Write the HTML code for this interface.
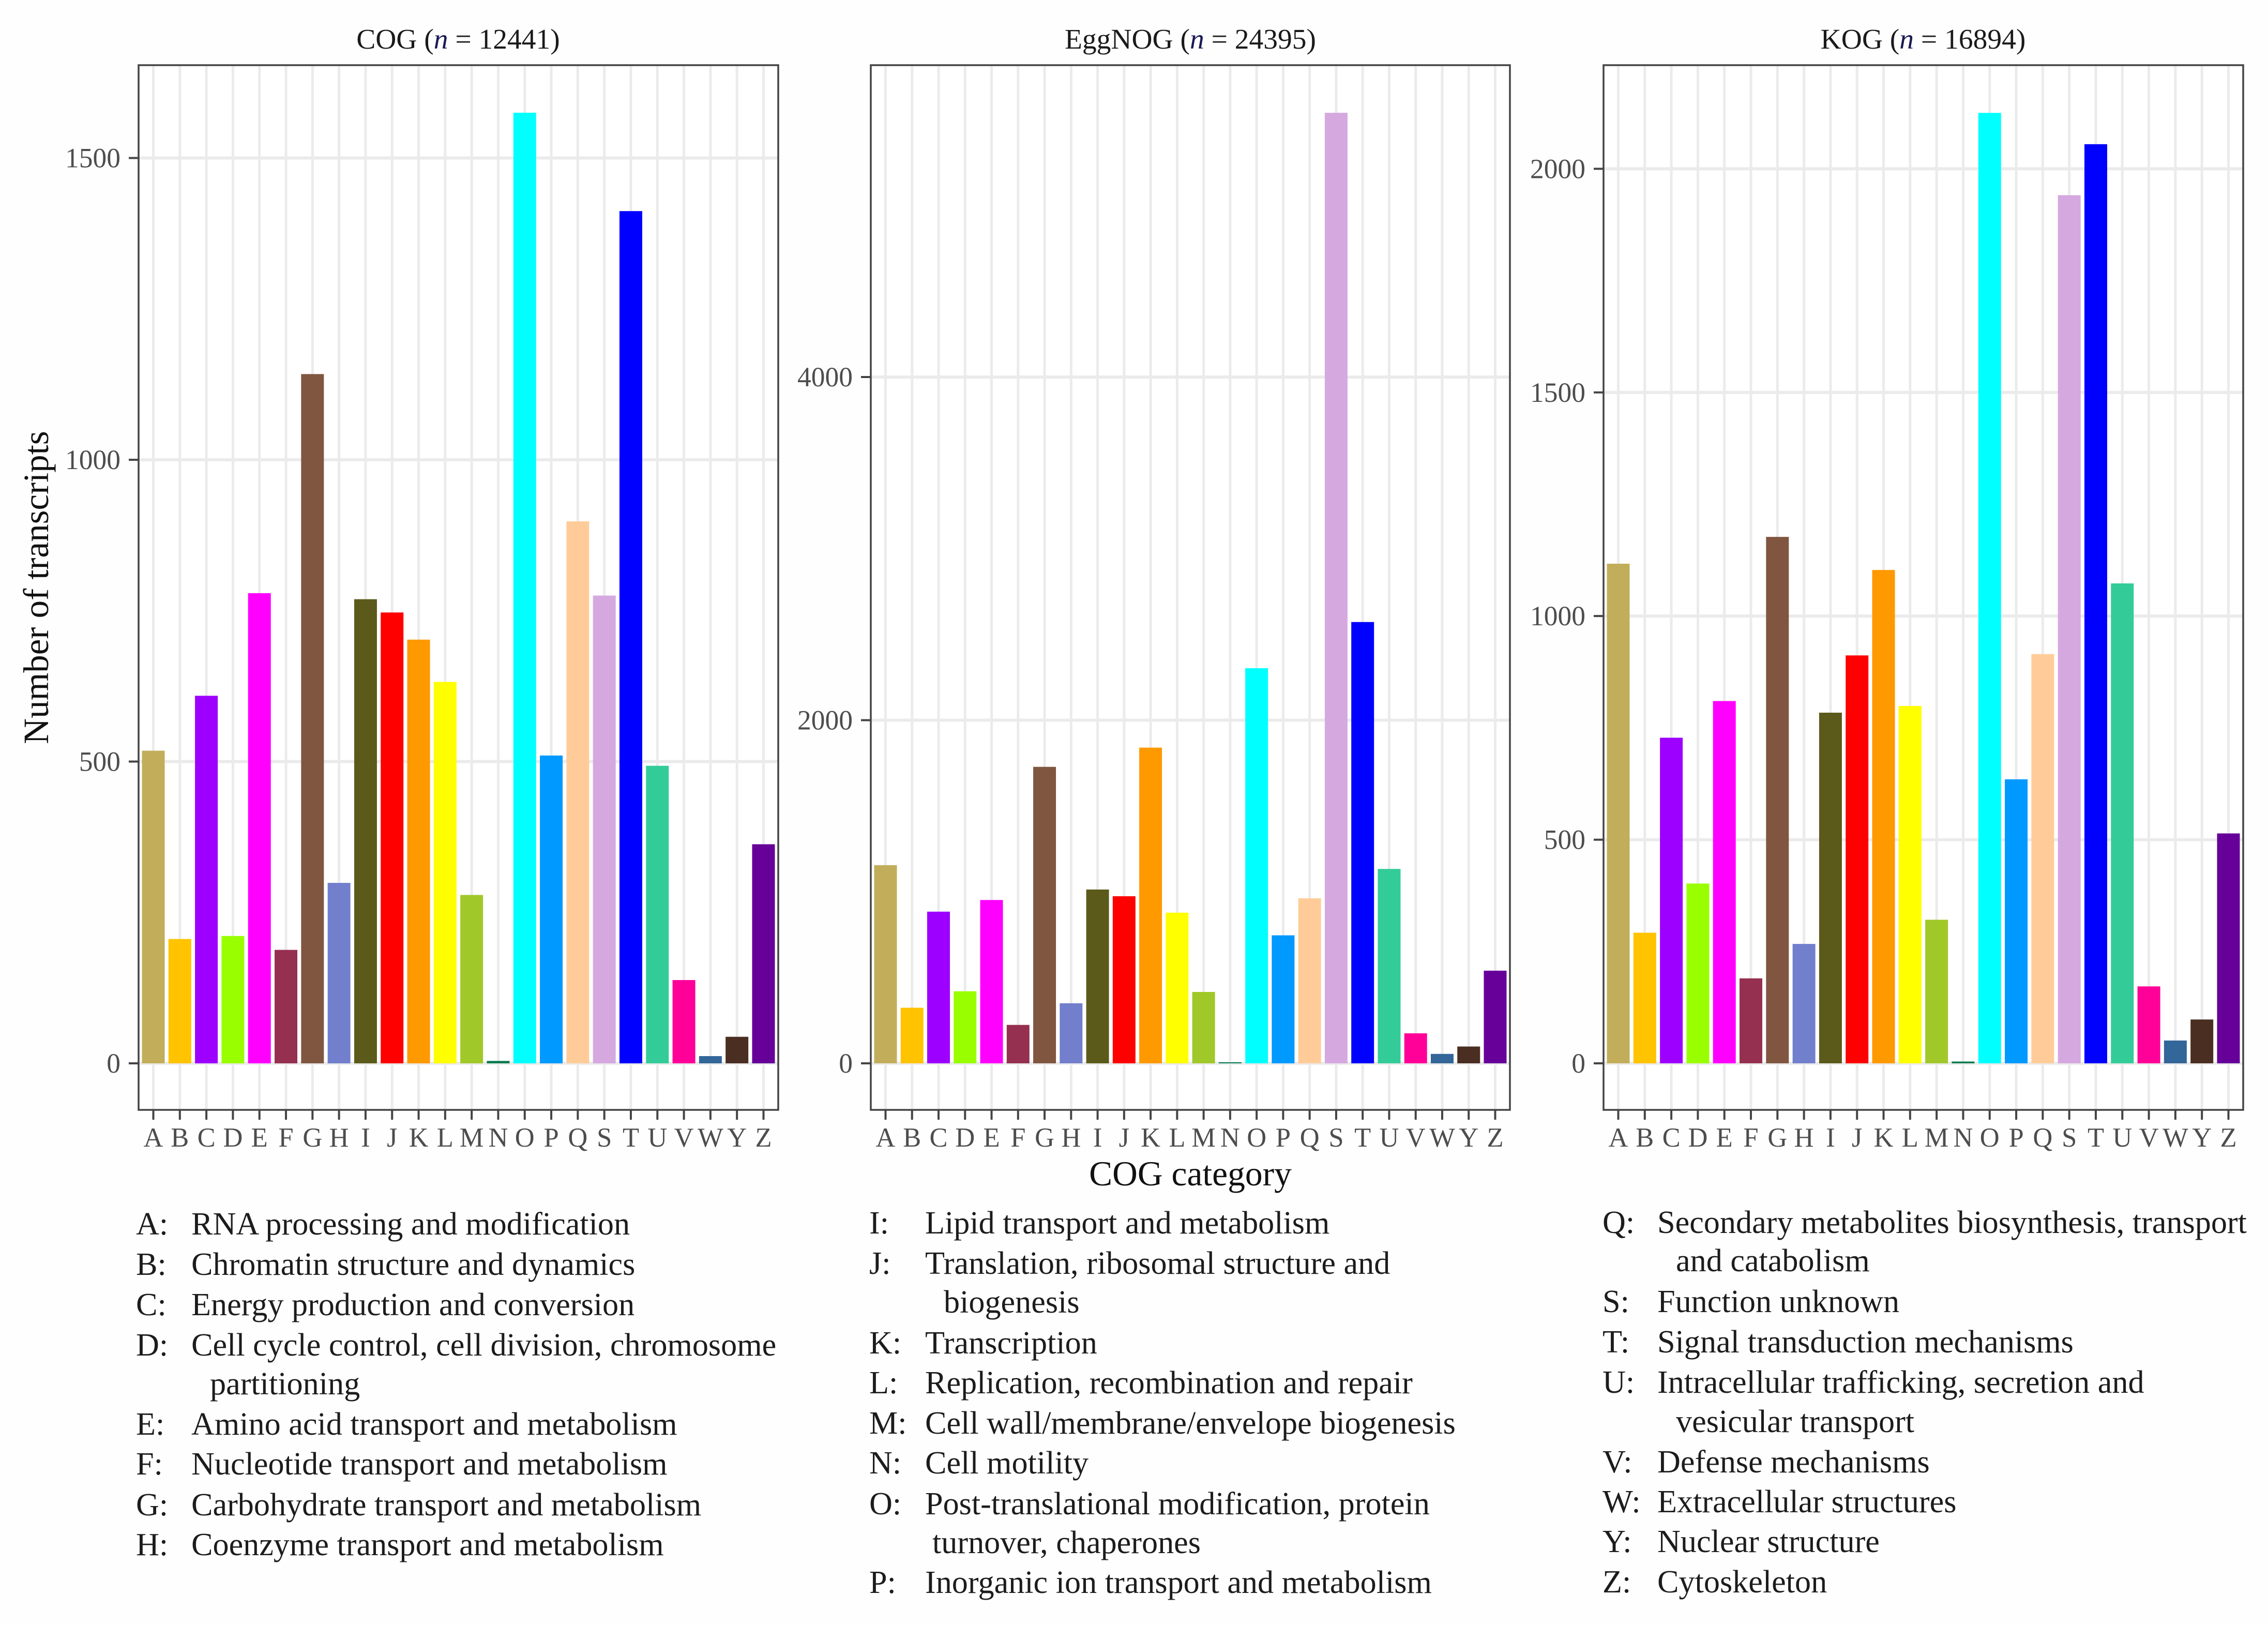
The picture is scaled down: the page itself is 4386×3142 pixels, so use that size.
<!DOCTYPE html>
<html lang="en">
<head>
<meta charset="utf-8">
<title>COG category distribution of transcripts</title>
<style>
html,body{margin:0;padding:0;background:#fefefe;}
svg{display:block;font-family:"Liberation Serif",serif;}
.legend text{font-size:62.2px;fill:#1c1c1c;}
.panel-title{font-size:55.5px;fill:#1a1a1a;text-anchor:middle;}
.panel-title .n{font-style:italic;fill:#1a1a55;}
.axis-title{font-size:69px;fill:#111;}
.tick-label{font-size:53.5px;fill:#4d4d4d;}
.x-label{font-size:52.5px;}
</style>
</head>
<body>
<svg id="figure" xmlns="http://www.w3.org/2000/svg" width="4386" height="3142" viewBox="0 0 4386 3142">
  <rect x="0" y="0" width="4386" height="3142" fill="#fefefe"/>
  <g id="panels"></g>

  <text class="panel-title" x="886" y="94">COG (<tspan class="n">n</tspan> = 12441)</text>
  <text class="panel-title" x="2302" y="94">EggNOG (<tspan class="n">n</tspan> = 24395)</text>
  <text class="panel-title" x="3719" y="94">KOG (<tspan class="n">n</tspan> = 16894)</text>

  <text class="axis-title" text-anchor="middle" transform="translate(93,1136) rotate(-90)">Number of transcripts</text>
  <text class="axis-title" text-anchor="middle" style="font-size:67.5px" x="2302" y="2292">COG category</text>

  <g class="legend">
    <text x="263" y="2387">A:</text><text x="370" y="2387">RNA processing and modification</text>
    <text x="263" y="2465">B:</text><text x="370" y="2465">Chromatin structure and dynamics</text>
    <text x="263" y="2543">C:</text><text x="370" y="2543">Energy production and conversion</text>
    <text x="263" y="2621">D:</text><text x="370" y="2621">Cell cycle control, cell division, chromosome</text>
    <text x="406" y="2696">partitioning</text>
    <text x="263" y="2774">E:</text><text x="370" y="2774">Amino acid transport and metabolism</text>
    <text x="263" y="2851">F:</text><text x="370" y="2851">Nucleotide transport and metabolism</text>
    <text x="263" y="2930">G:</text><text x="370" y="2930">Carbohydrate transport and metabolism</text>
    <text x="263" y="3007">H:</text><text x="370" y="3007">Coenzyme transport and metabolism</text>
  </g>
  <g class="legend">
    <text x="1681" y="2385">I:</text><text x="1789" y="2385">Lipid transport and metabolism</text>
    <text x="1681" y="2463">J:</text><text x="1789" y="2463">Translation, ribosomal structure and</text>
    <text x="1825" y="2538">biogenesis</text>
    <text x="1681" y="2617">K:</text><text x="1789" y="2617">Transcription</text>
    <text x="1681" y="2694">L:</text><text x="1789" y="2694">Replication, recombination and repair</text>
    <text x="1681" y="2772">M:</text><text x="1789" y="2772">Cell wall/membrane/envelope biogenesis</text>
    <text x="1681" y="2849">N:</text><text x="1789" y="2849">Cell motility</text>
    <text x="1681" y="2928">O:</text><text x="1789" y="2928">Post-translational modification, protein</text>
    <text x="1803" y="3003">turnover, chaperones</text>
    <text x="1681" y="3080">P:</text><text x="1789" y="3080">Inorganic ion transport and metabolism</text>
  </g>
  <g class="legend">
    <text x="3099" y="2384">Q:</text><text x="3205" y="2384">Secondary metabolites biosynthesis, transport</text>
    <text x="3241" y="2458">and catabolism</text>
    <text x="3099" y="2537">S:</text><text x="3205" y="2537">Function unknown</text>
    <text x="3099" y="2615">T:</text><text x="3205" y="2615">Signal transduction mechanisms</text>
    <text x="3099" y="2693">U:</text><text x="3205" y="2693">Intracellular trafficking, secretion and</text>
    <text x="3241" y="2769">vesicular transport</text>
    <text x="3099" y="2847">V:</text><text x="3205" y="2847">Defense mechanisms</text>
    <text x="3099" y="2924">W:</text><text x="3205" y="2924">Extracellular structures</text>
    <text x="3099" y="3001">Y:</text><text x="3205" y="3001">Nuclear structure</text>
    <text x="3099" y="3079">Z:</text><text x="3205" y="3079">Cytoskeleton</text>
  </g>
</svg>
<script>
var categories = ["A","B","C","D","E","F","G","H","I","J","K","L","M","N","O","P","Q","S","T","U","V","W","Y","Z"];
var barColors = ["#C2AE5A","#FFC300","#9D00FF","#99FF00","#FF00FF","#963050","#805640","#727FCC","#5C5A1A","#FF0000","#FF9900","#FFFF00","#A0C828","#007A4D","#00FFFF","#0099FF","#FFCC99","#D5A9E0","#0000FF","#33CC99","#FF0099","#336699","#4A2E22","#660099"];
var cogValues = [518,206,609,211,779,188,1142,299,769,747,702,632,279,4,1575,510,898,775,1412,493,138,12,44,363];
var eggnogValues = [1155,324,884,420,952,224,1728,350,1013,974,1840,878,416,6,2303,746,962,5540,2572,1133,175,55,98,540];
var kogValues = [1117,292,728,402,810,190,1177,267,784,912,1103,799,321,4,2125,635,915,1941,2055,1073,172,51,98,514];
var cogTicks = [0,500,1000,1500];
var eggnogTicks = [0,2000,4000];
var kogTicks = [0,500,1000,1500,2000];

var SVG_NS = "http://www.w3.org/2000/svg";
var PANEL_TOP = 126, PANEL_BOTTOM = 2146;

function shape(parent, tag, attrs, text) {
  var el = document.createElementNS(SVG_NS, tag);
  for (var k in attrs) { el.setAttribute(k, attrs[k]); }
  if (text !== undefined) { el.textContent = text; }
  parent.appendChild(el);
  return el;
}

function xScale(left, right) {
  var pad = 28.5;
  var step = (right - left - 2 * pad) / (categories.length - 1);
  return function (i) { return left + pad + i * step; };
}

function yScale(domainMin, domainMax) {
  return function (v) {
    return PANEL_BOTTOM - (v - domainMin) / (domainMax - domainMin) * (PANEL_BOTTOM - PANEL_TOP);
  };
}

function drawPanel(key, values, ticks, left, right, domainMin, domainMax) {
  var root = document.getElementById("panels");
  var g = shape(root, "g", {});
  
  
  var x = xScale(left, right);
  var y = yScale(domainMin, domainMax);
  var barW = 44;

  var bg = shape(g, "rect", {x: left, y: PANEL_TOP, width: right - left, height: PANEL_BOTTOM - PANEL_TOP, fill: "#ffffff"});
  
  

  categories.forEach(function (c, i) {
    var line = shape(g, "line", {x1: x(i), x2: x(i), y1: PANEL_TOP, y2: PANEL_BOTTOM, stroke: "#ebebeb", "stroke-width": 5});
    
    
  });
  ticks.forEach(function (t) {
    var line = shape(g, "line", {x1: left, x2: right, y1: y(t), y2: y(t), stroke: "#ebebeb", "stroke-width": 6});
    
    
  });

  categories.forEach(function (c, i) {
    var top = y(values[i]);
    var bar = shape(g, "rect", {x: x(i) - barW / 2, y: top, width: barW, height: y(0) - top, fill: barColors[i]});
    
    
  });

  var border = shape(g, "rect", {x: left, y: PANEL_TOP, width: right - left, height: PANEL_BOTTOM - PANEL_TOP, fill: "none", stroke: "#444444", "stroke-width": 3.5});
  
  

  ticks.forEach(function (t) {
    var tick = shape(g, "line", {x1: left - 19, x2: left, y1: y(t), y2: y(t), stroke: "#444444", "stroke-width": 4});
    
    
    var label = shape(g, "text", {"class": "tick-label", x: left - 35, y: y(t) + 18, "text-anchor": "end"}, String(t));
    
    
  });

  categories.forEach(function (c, i) {
    var tick = shape(g, "line", {x1: x(i), x2: x(i), y1: PANEL_BOTTOM, y2: PANEL_BOTTOM + 19, stroke: "#444444", "stroke-width": 4});
    
    
    var label = shape(g, "text", {"class": "tick-label x-label", x: x(i), y: 2217, "text-anchor": "middle"}, c);
    
    
  });
}

drawPanel("cog", cogValues, cogTicks, 268, 1505, -77.1, 1653.8);
drawPanel("eggnog", eggnogValues, eggnogTicks, 1684, 2920, -271.3, 5817.6);
drawPanel("kog", kogValues, kogTicks, 3101, 4338, -104.1, 2231.7);
</script>
</body>
</html>
